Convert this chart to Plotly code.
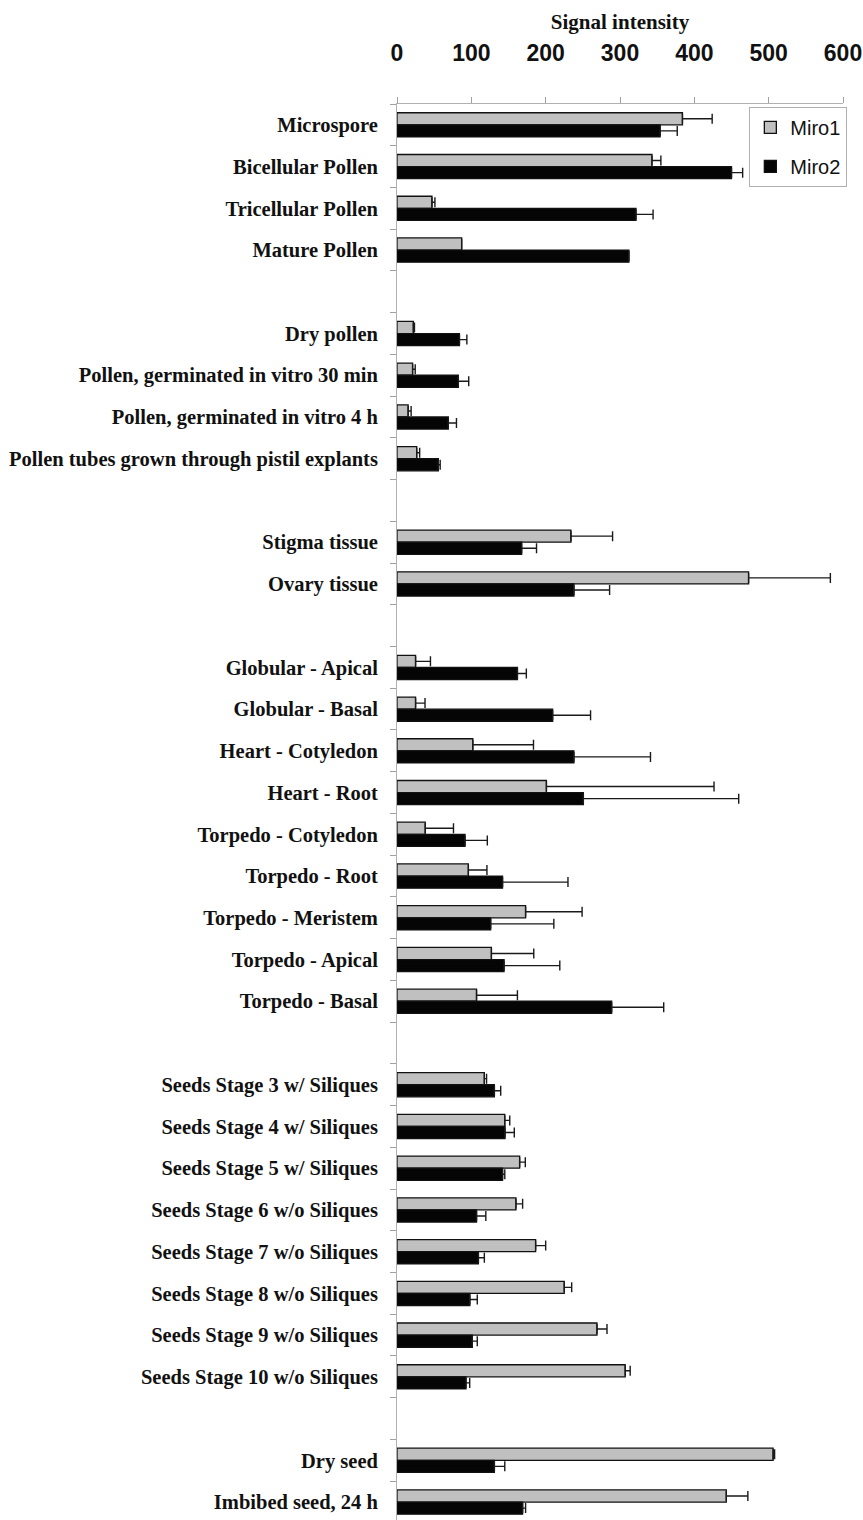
import plotly.graph_objects as go

# Tissue / developmental stage labels; "" marks a spacer row between groups
labels = [
    "Microspore", "Bicellular Pollen", "Tricellular Pollen", "Mature Pollen", "",
    "Dry pollen", "Pollen, germinated in vitro 30 min", "Pollen, germinated in vitro 4 h",
    "Pollen tubes grown through pistil explants", "",
    "Stigma tissue", "Ovary tissue", "",
    "Globular - Apical", "Globular - Basal", "Heart - Cotyledon", "Heart - Root",
    "Torpedo - Cotyledon", "Torpedo - Root", "Torpedo - Meristem", "Torpedo - Apical",
    "Torpedo - Basal", "",
    "Seeds Stage 3 w/ Siliques", "Seeds Stage 4 w/ Siliques", "Seeds Stage 5 w/ Siliques",
    "Seeds Stage 6 w/o Siliques", "Seeds Stage 7 w/o Siliques", "Seeds Stage 8 w/o Siliques",
    "Seeds Stage 9 w/o Siliques", "Seeds Stage 10 w/o Siliques", "",
    "Dry seed", "Imbibed seed, 24 h",
]

miro1 = [384, 343, 47, 87, None,
         22, 21, 15, 26.5, None,
         234, 473, None,
         25, 25, 102, 201, 38, 96, 173, 127, 107, None,
         117.5, 145, 165, 160, 186.5, 225, 269, 307, None,
         506, 443]
miro1_err = [40, 12, 4, None, None,
             1.5, 3.5, 4, 4, None,
             56, 110, None,
             20, 12.7, 81.6, 225.5, 38, 25, 76, 57, 55, None,
             3, 6.7, 7.6, 9, 13.5, 10, 13.5, 6.7, None,
             2, 29]

miro2 = [354, 450, 321.5, 312, None,
         84, 82.5, 69, 55.6, None,
         167.7, 238, None,
         162, 209.4, 238, 250.7, 91.5, 142, 126, 144, 288.8, None,
         131, 145.3, 142, 107, 109.5, 98, 101.3, 92.8, None,
         131, 169]
miro2_err = [23, 15, 23, None, None,
             10, 14, 11, 2.5, None,
             20, 48, None,
             12, 51, 103, 209, 30, 88, 85, 75, 70, None,
             8.5, 12.5, 3, 12.5, 8, 10, 6.7, 5, None,
             14, 4]

x_ticks = [0, 100, 200, 300, 400, 500, 600]

rows = list(range(len(labels)))
zeros = [0] * len(labels)

def err(values):
    return dict(type="data", symmetric=False, array=values, arrayminus=zeros,
                color="#1a1a1a", thickness=1.4, width=5)

fig = go.Figure()
fig.add_trace(go.Bar(
    name="Miro1", y=rows, x=miro1, orientation="h",
    marker=dict(color="#c0c0c0", line=dict(color="#111111", width=1.3)),
    error_x=err(miro1_err), legendgroup="a",
))
fig.add_trace(go.Bar(
    name="Miro2", y=rows, x=miro2, orientation="h",
    marker=dict(color="#050505", line=dict(color="#111111", width=1.3)),
    error_x=err(miro2_err), legendgroup="b",
))

fig.update_layout(
    width=863, height=1520,
    margin=dict(l=397, r=20, t=104, b=0, pad=0),
    paper_bgcolor="white", plot_bgcolor="white",
    barmode="group", bargap=0.42, bargroupgap=0,
    showlegend=True,
    legend=dict(
        x=0.79, y=0.998, xanchor="left", yanchor="top",
        bordercolor="#b0b0b0", borderwidth=1, bgcolor="white",
        font=dict(family="Liberation Sans", size=20, color="#111111"),
        traceorder="grouped", tracegroupgap=10, itemwidth=30,
    ),
    xaxis=dict(
        side="top", range=[0, 600], tickmode="array", tickvals=x_ticks,
        ticks="outside", ticklen=6, tickcolor="#a0a0a0", tickwidth=1,
        showline=True, linecolor="#b0b0b0", linewidth=1, showgrid=False, zeroline=False,
        tickfont=dict(family="Liberation Sans", size=23, weight="bold", color="#111111"),
        ticklabelstandoff=27,
        title=dict(text="Signal intensity", standoff=4,
                   font=dict(family="Liberation Serif", size=21, weight="bold", color="#111111")),
    ),
    yaxis=dict(
        range=[33.43, -0.5], tickmode="array", tickvals=rows, ticktext=labels,
        ticks="", showline=True, linecolor="#b0b0b0", linewidth=1,
        showgrid=False, zeroline=False,
        tickfont=dict(family="Liberation Serif", size=20.5, weight="bold", color="#111111"),
        ticklabelstandoff=14,
        minor=dict(tickmode="array", tickvals=[r - 0.5 for r in rows] + [len(rows) - 0.5],
                   ticks="outside", ticklen=6, tickcolor="#a0a0a0", showgrid=False),
    ),
)

fig.write_html("out.html")
